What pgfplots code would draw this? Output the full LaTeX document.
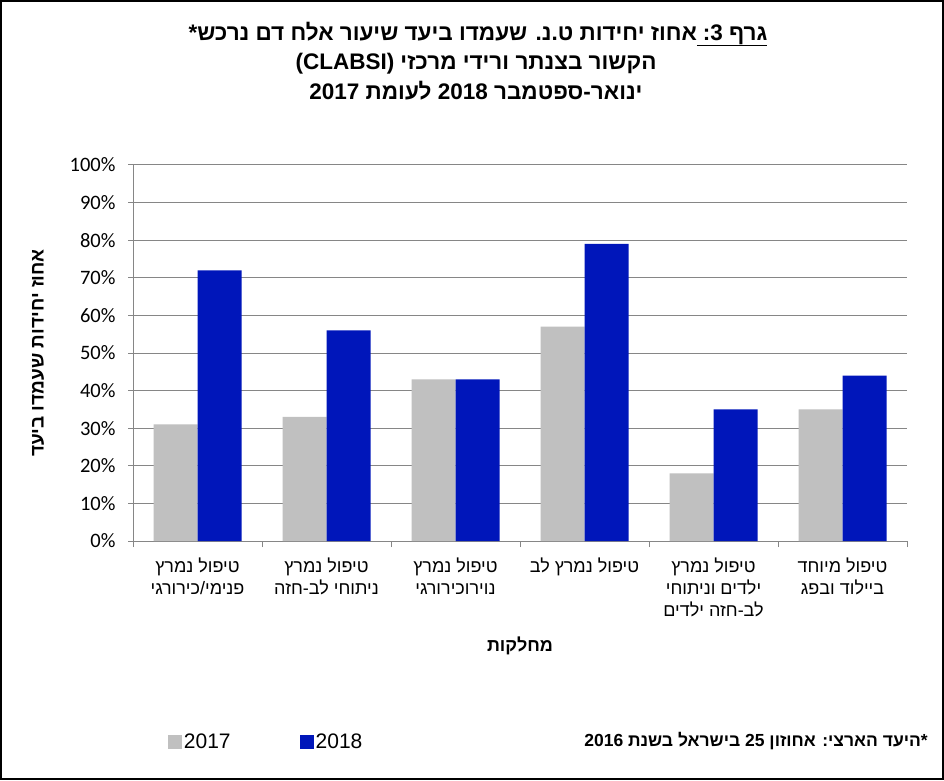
\documentclass[border=0pt]{standalone}
\usepackage{pgfplots}
\pgfplotsset{compat=1.18}
\usepackage{fontspec}
\setmainfont{Liberation Sans}
\newfontfamily\heb[Script=Hebrew]{Liberation Sans}
\newfontfamily\carlito{Carlito}
\TeXXeTstate=1
\definecolor{gbar}{RGB}{192,192,192}
\definecolor{bbar}{RGB}{0,22,186}
\definecolor{axgray}{RGB}{134,134,134}
\begin{document}
\begin{tikzpicture}[x=1pt,y=1pt]
\useasboundingbox (0,0) rectangle (944,780);
\fill[white] (0,0) rectangle (944,780);
\draw[black,line width=2pt] (1,1) rectangle (943,779);
% title
\node[font=\heb\bfseries\fontsize{22.5}{26}\selectfont] at (478,746) {\beginR\underline{\hbox{\kern6pt\beginR גרף \beginL3:\endL\endR}}אחוז יחידות ט.נ. שעמדו ביעד שיעור אלח דם נרכש*\endR};
\node[font=\heb\bfseries\fontsize{22.5}{26}\selectfont] at (476,716) {\beginR הקשור בצנתר ורידי מרכזי \beginL(CLABSI)\endL\endR};
\node[font=\heb\bfseries\fontsize{22.5}{26}\selectfont] at (476,689) {\beginR ינואר-ספטמבר 2018 לעומת 2017\endR};
% footnote
\node[font=\heb\bfseries\fontsize{17.5}{20}\selectfont,anchor=east,inner sep=0pt] at (928,39) {\beginR *היעד הארצי: אחוזון 25 בישראל בשנת 2016\endR};
\begin{axis}[
  at={(133pt,239pt)}, anchor=south west,
  scale only axis, width=774pt, height=376pt,
  ybar=0pt, bar width=44pt,
  xmin=-0.5, xmax=5.5, ymin=0, ymax=100,
  axis x line*=bottom, axis y line*=left,
  axis line style={axgray, line width=1pt},
  xtick={0,...,5},
  major x tick style={draw=none},
  minor xtick={-0.5,0.5,...,5.5},
  minor x tick style={axgray, line width=1pt},
  minor tick length=6pt,
  tick align=outside,
  ytick={0,10,...,100},
  major y tick style={axgray, line width=1pt},
  major tick length=5pt,
  ymajorgrids, grid style={axgray, line width=1pt},
  yticklabel={\pgfmathprintnumber[assume math mode=true]{\tick}\%},
  yticklabel style={font=\carlito\fontsize{20.5}{22}\selectfont, xshift=-9pt},
  xticklabels={
    {\beginR טיפול נמרץ\endR\\\beginR פנימי/כירורגי\endR},
    {\beginR טיפול נמרץ\endR\\\beginR ניתוחי לב-חזה\endR},
    {\beginR טיפול נמרץ\endR\\\beginR נוירוכירורגי\endR},
    {\beginR טיפול נמרץ לב\endR},
    {\beginR טיפול נמרץ\endR\\\beginR ילדים וניתוחי\endR\\\beginR לב-חזה ילדים\endR},
    {\beginR טיפול מיוחד\endR\\\beginR ביילוד ובפג\endR}},
  xticklabel style={align=center, font=\heb\fontsize{18}{22}\selectfont, anchor=north, yshift=-8pt},
  xlabel={\beginR מחלקות\endR},
  xlabel style={font=\heb\bfseries\fontsize{18}{20}\selectfont, at={(axis description cs:0.5,-0.279)}, anchor=center},
  ylabel={\beginR אחוז יחידות שעמדו ביעד\endR},
  ylabel style={font=\heb\bfseries\fontsize{19}{20}\selectfont, at={(axis description cs:-0.1227,0.5)}, anchor=center},
  legend style={at={(axis description cs:0.041,-0.535)}, anchor=west, draw=none, fill=none,
    legend columns=2, font=\fontsize{21}{22}\selectfont,
    /tikz/every even column/.append style={column sep=67pt}},
  legend image code/.code={\fill[#1] (0pt,-7pt) rectangle (14pt,7pt);},
  legend cell align=left,
]
\addplot[draw=none, fill=gbar] coordinates {(0,31) (1,33) (2,43) (3,57) (4,18) (5,35)};
\addplot[draw=none, fill=bbar] coordinates {(0,72) (1,56) (2,43) (3,79) (4,35) (5,44)};
\legend{2017,2018}
\end{axis}
\end{tikzpicture}
\end{document}
